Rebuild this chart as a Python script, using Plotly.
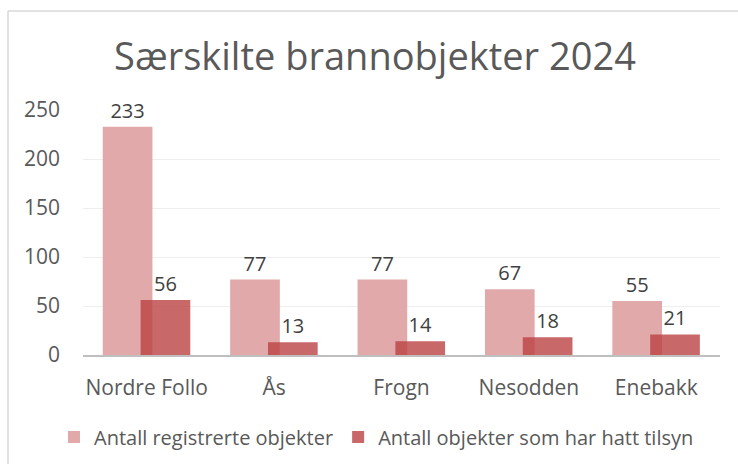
import plotly.graph_objects as go

categories = ["Nordre Follo", "Ås", "Frogn", "Nesodden", "Enebakk"]
registrerte = [233, 77, 77, 67, 55]
tilsyn = [56, 13, 14, 18, 21]
series_names = ["Antall registrerte objekter", "Antall objekter som har hatt tilsyn"]
title_text = "Særskilte brannobjekter 2024"
y_ticks = [0, 50, 100, 150, 200, 250]

W, H = 738, 464
L, R, T, B = 83, 18, 110, 109
pw, ph = W - L - R, H - T - B

def px(x):
    return (x - L) / pw

def py(y):
    return (H - B - y) / ph

FONT = "Open Sans"
TXT = "#595959"

fig = go.Figure()
fig.add_trace(go.Bar(
    x=categories, y=registrerte, name=series_names[0],
    marker=dict(color="rgb(226,169,170)", line=dict(width=0)),
    width=0.39, offset=-0.345,
    text=registrerte, textposition="outside",
    textfont=dict(size=20, color="#404040", family=FONT),
    cliponaxis=False,
))
fig.add_trace(go.Bar(
    x=categories, y=tilsyn, name=series_names[1],
    marker=dict(color="rgba(188,66,68,0.8)", line=dict(width=0)),
    width=0.39, offset=-0.048,
    text=tilsyn, textposition="outside",
    textfont=dict(size=20, color="#404040", family=FONT),
    cliponaxis=False,
))

fig.update_layout(
    width=W, height=H,
    margin=dict(l=L, r=R, t=T, b=B, autoexpand=False),
    barmode="overlay",
    paper_bgcolor="white", plot_bgcolor="white",
    font=dict(family=FONT, color=TXT, size=20),
    title=dict(text=title_text, x=375 / W, xanchor="center", xref="container",
               y=1 - 57 / H, yanchor="middle", yref="container",
               font=dict(size=38, color=TXT, family=FONT)),
    showlegend=True,
    legend=dict(orientation="h", x=px(54), xanchor="left", xref="paper",
                y=py(437), yanchor="middle", yref="paper",
                font=dict(size=20, color=TXT, family=FONT),
                itemwidth=30, itemclick=False, traceorder="normal"),
    xaxis=dict(type="category", showline=True, linecolor="#bfbfbf", linewidth=2,
               ticks="", tickfont=dict(size=21, color=TXT), ticklabelstandoff=13,
               showgrid=False, automargin=False),
    yaxis=dict(range=[0, 250], tickvals=y_ticks, showgrid=True, gridcolor="#eeeeee",
               gridwidth=1, zeroline=False, showline=False, ticks="",
               tickfont=dict(size=21, color=TXT), ticklabelstandoff=22,
               automargin=False),
    shapes=[
        dict(type="line", xref="paper", yref="paper", x0=px(8), x1=px(745),
             y0=py(11), y1=py(11), line=dict(color="#d9d9d9", width=1.5)),
        dict(type="line", xref="paper", yref="paper", x0=px(8), x1=px(8),
             y0=py(11), y1=py(470), line=dict(color="#d9d9d9", width=1.5)),
    ],
)

fig.write_html("out.html", config={"displayModeBar": False},
               post_script="document.body.style.margin='0';")
